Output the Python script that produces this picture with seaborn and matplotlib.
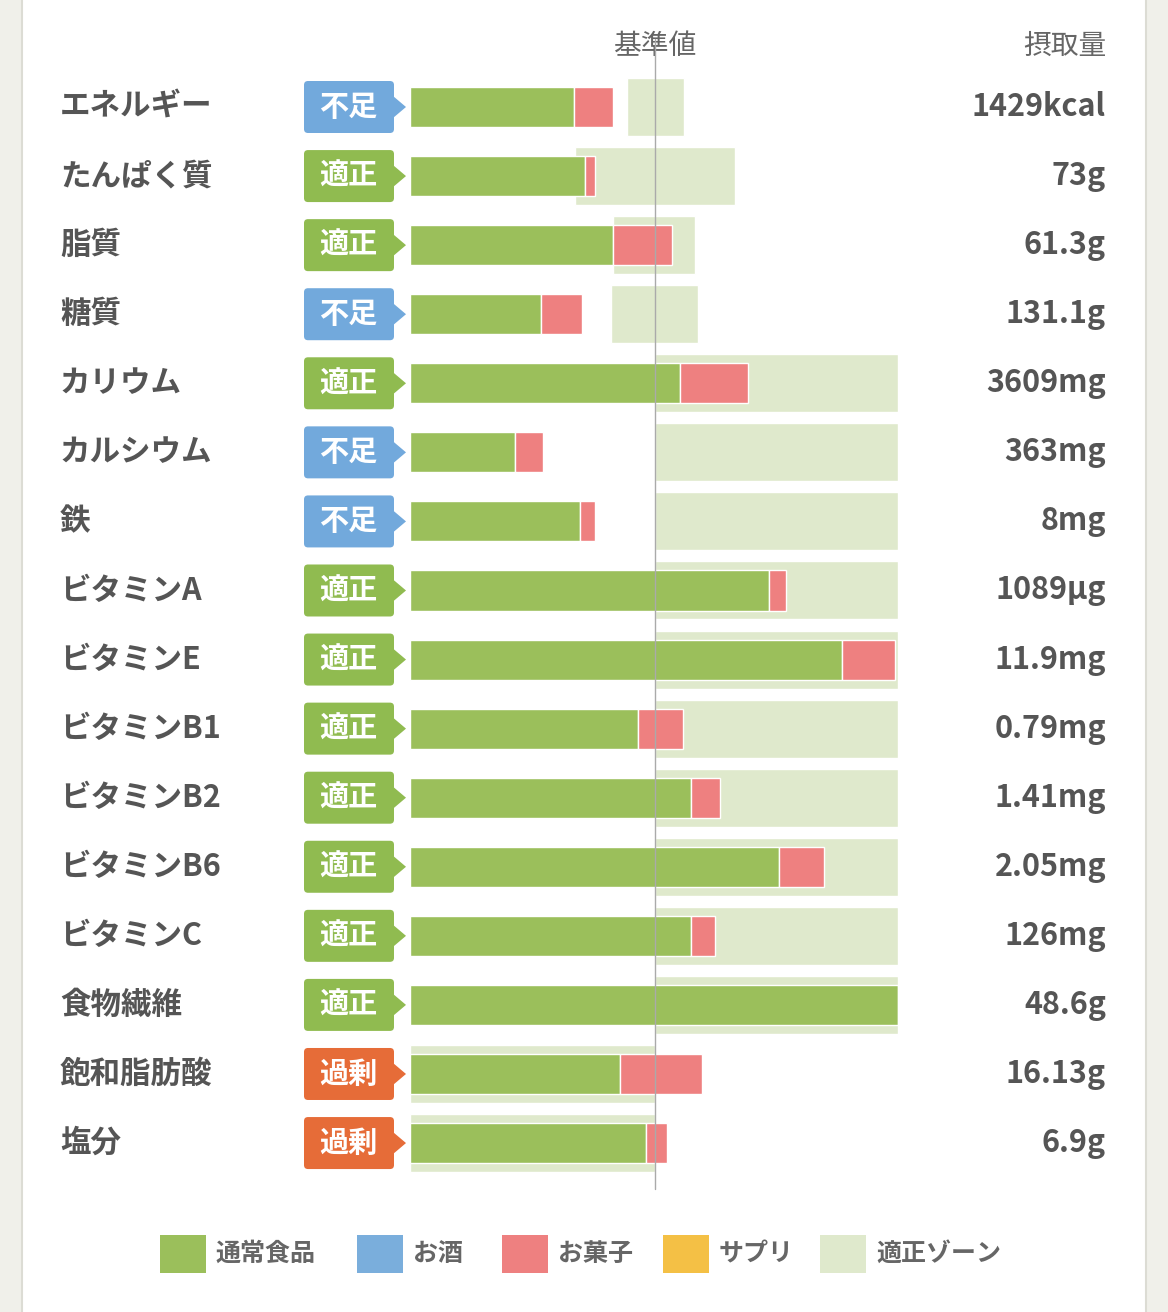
import matplotlib
matplotlib.use("Agg")
import matplotlib.pyplot as plt, numpy as np, pandas as pd
import seaborn as sns
from matplotlib.patches import FancyBboxPatch, Polygon, Rectangle

sns.set_style("white")
plt.rcParams['font.family'] = ['Noto Sans CJK JP', 'DejaVu Sans']

# data (percent of reference value)
nutrients = ["エネルギー", "たんぱく質", "脂質", "糖質", "カリウム", "カルシウム", "鉄",
             "ビタミンA", "ビタミンE", "ビタミンB1", "ビタミンB2", "ビタミンB6", "ビタミンC",
             "食物繊維", "飽和脂肪酸", "塩分"]
status = ["不足", "適正", "適正", "不足", "適正", "不足", "不足", "適正", "適正", "適正",
          "適正", "適正", "適正", "適正", "過剰", "過剰"]
food = [67, 71.4, 82.9, 53.5, 110.2, 42.9, 69.4, 146.5, 176.3, 93.1, 114.7, 150.6, 114.7, 199, 85.7, 96.3]
snack = [16, 4, 24, 16.7, 27.8, 11.4, 6.1, 6.9, 21.6, 18.4, 11.8, 18.4, 9.8, 0, 33.5, 8.6]
zone_lo = [88.6, 67.3, 82.9, 82, 100, 100, 100, 100, 100, 100, 100, 100, 100, 100, 0, 0]
zone_hi = [111.8, 132.7, 116.3, 117.6, 199, 199, 199, 199, 199, 199, 199, 199, 199, 199, 100, 100]
intake = ["1429kcal", "73g", "61.3g", "131.1g", "3609mg", "363mg", "8mg", "1089μg", "11.9mg",
          "0.79mg", "1.41mg", "2.05mg", "126mg", "48.6g", "16.13g", "6.9g"]
legend_names = ["通常食品", "お酒", "お菓子", "サプリ", "適正ゾーン"]

GREEN, RED, BLUE, YEL, ZONE = "#9bbf5b", "#ee8080", "#7aaedc", "#f4c045", "#dfe9cc"
badge_col = {"不足": "#72a9dc", "適正": "#90bb50", "過剰": "#e66c38"}

W, H = 1168, 1312
fig = plt.figure(figsize=(W / 100, H / 100), dpi=100)
fig.patch.set_facecolor("#f0f0ea")

# overlay axes in pixel coords
ov = fig.add_axes([0, 0, 1, 1])
ov.set_xlim(0, W); ov.set_ylim(H, 0); ov.axis("off")
ov.add_patch(Rectangle((22, -5), 1124, H + 10, facecolor="white", edgecolor="#dcdcd4", lw=1.5))

df = pd.DataFrame({"n": nutrients, "food": food})
n = len(nutrients)
y0, dy = 107, 69.07
ax = fig.add_axes([410 / W, 1 - (y0 + dy * (n - 0.5)) / H, 488 / W, dy * n / H])
ax.set_zorder(2); ax.patch.set_alpha(0)
for i in range(n):
    ax.barh(i, zone_hi[i] - zone_lo[i], left=zone_lo[i], height=0.84, color=ZONE, zorder=1)
sns.barplot(data=df, y="n", x="food", orient="h", color=GREEN, width=0.58, ax=ax,
            saturation=1, zorder=2)
ax.barh(range(n), snack, left=food, height=0.58, color=RED, zorder=2)
ax.axvline(100, ymin=-0.01, ymax=1.03, color="#aaaaaa", lw=1, zorder=3, clip_on=False)
ax.set_xlim(0, 199.2); ax.set_ylim(n - 0.5, -0.5)
ax.axis("off")

ov.text(655, 46, "基準値", ha="center", va="center", fontsize=20, color="#666")
ov.text(1106, 46, "摂取量", ha="right", va="center", fontsize=20, color="#666")

for i in range(n):
    y = y0 + dy * i
    ov.text(60, y, nutrients[i], ha="left", va="center", fontsize=22, fontweight="bold", color="#555")
    ov.text(1106, y, intake[i], ha="right", va="center", fontsize=22, fontweight="bold", color="#555")
    c = badge_col[status[i]]
    ov.add_patch(FancyBboxPatch((304, y - 26), 90, 52, boxstyle="round,pad=0,rounding_size=4",
                                facecolor=c, edgecolor="none"))
    ov.add_patch(Polygon([[393, y - 11], [406, y], [393, y + 11]], facecolor=c, edgecolor="none"))
    ov.text(348, y, status[i], ha="center", va="center", fontsize=21, fontweight="bold", color="white")

leg_cols = [GREEN, BLUE, RED, YEL, ZONE]
leg_x = [160, 357, 502, 663, 820]
for name, c, x in zip(legend_names, leg_cols, leg_x):
    ov.add_patch(Rectangle((x, 1235), 46, 38, facecolor=c, edgecolor="none"))
    ov.text(x + 56, 1254, name, ha="left", va="center", fontsize=18, fontweight="bold", color="#666")

fig.savefig("out.png", dpi=100, facecolor=fig.get_facecolor())
